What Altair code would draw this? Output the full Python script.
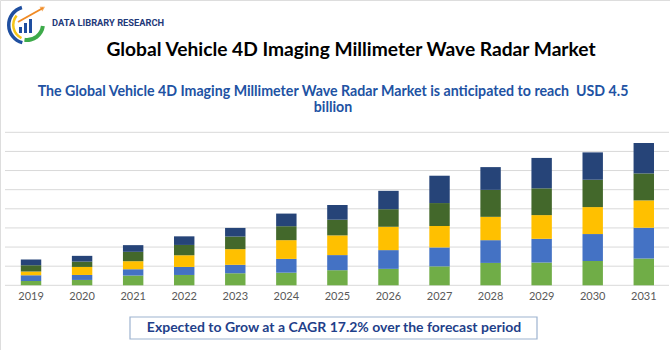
import altair as alt
import pandas as pd

years = ["2019", "2020", "2021", "2022", "2023", "2024", "2025",
         "2026", "2027", "2028", "2029", "2030", "2031"]
segments = ["Seg A", "Seg B", "Seg C", "Seg D", "Seg E"]
seg_a = [0.23, 0.28, 0.51, 0.54, 0.63, 0.66, 0.79, 0.86, 0.99, 1.17, 1.19, 1.27, 1.40]
seg_b = [0.30, 0.26, 0.33, 0.42, 0.44, 0.72, 0.79, 0.98, 0.99, 1.19, 1.24, 1.41, 1.61]
seg_c = [0.19, 0.42, 0.42, 0.61, 0.82, 0.98, 1.03, 1.22, 1.12, 1.22, 1.24, 1.41, 1.43]
seg_d = [0.33, 0.28, 0.49, 0.54, 0.66, 0.73, 0.82, 0.92, 1.20, 1.41, 1.40, 1.43, 1.41]
seg_e = [0.30, 0.30, 0.35, 0.45, 0.45, 0.66, 0.77, 0.96, 1.43, 1.19, 1.59, 1.43, 1.59]
grid_values = [0, 1, 2, 3, 4, 5, 6, 7, 8]
seg_colors = ["#70AD47", "#4472C4", "#FFC000", "#43682B", "#264478"]

title_text = "Global Vehicle 4D Imaging Millimeter Wave Radar Market"
subtitle_lines = ["The Global Vehicle 4D Imaging Millimeter Wave Radar Market is anticipated to reach\u00a0 USD 4.5",
                  "billion"]
cagr_text = "Expected to Grow at a CAGR 17.2% over the forecast period"
brand_text = "DATA LIBRARY RESEARCH"

rows = []
for s_idx, (name, vals) in enumerate(zip(segments, [seg_a, seg_b, seg_c, seg_d, seg_e])):
    for y, v in zip(years, vals):
        rows.append({"year": y, "segment": name, "order": s_idx, "value": v})
df = pd.DataFrame(rows)
grid_df = pd.DataFrame({"g": grid_values})
year_df = pd.DataFrame({"year": years})

FONT = "Lato"
xscale = alt.Scale(domain=years, range=[5.5, 669.3], paddingInner=0.6, paddingOuter=0.3)
yscale = alt.Scale(domain=[0, 8], range=[285.3, 132.3], nice=False, zero=True)

grid = alt.Chart(grid_df).mark_rule(color="#D9D9D9", strokeWidth=1).encode(
    y=alt.Y("g:Q", scale=yscale, axis=None),
    x=alt.value(5), x2=alt.value(669),
)

bars = alt.Chart(df).mark_bar().encode(
    x=alt.X("year:N", scale=xscale, axis=None),
    y=alt.Y("sum(value):Q", scale=yscale, axis=None, stack="zero"),
    color=alt.Color("segment:N", scale=alt.Scale(domain=segments, range=seg_colors), legend=None),
    order=alt.Order("order:Q", sort="ascending"),
)

year_labels = alt.Chart(year_df).mark_text(font=FONT, fontSize=11, color="#595959", baseline="middle").encode(
    x=alt.X("year:N", scale=xscale, axis=None),
    y=alt.value(297),
    text="year:N",
)

title = alt.Chart(pd.DataFrame({"t": [title_text]})).mark_text(
    font=FONT, fontSize=19.2, fontWeight="bold", color="#000000", align="center", baseline="alphabetic"
).encode(x=alt.value(351), y=alt.value(56), text="t:N")

sub1 = alt.Chart(pd.DataFrame({"t": [subtitle_lines[0]]})).mark_text(
    font=FONT, fontSize=14.2, fontWeight="bold", color="#2152A3", align="center", baseline="alphabetic"
).encode(x=alt.value(333), y=alt.value(96), text="t:N")

sub2 = alt.Chart(pd.DataFrame({"t": [subtitle_lines[1]]})).mark_text(
    font=FONT, fontSize=14.2, fontWeight="bold", color="#2152A3", align="center", baseline="alphabetic"
).encode(x=alt.value(333), y=alt.value(112), text="t:N")

box = alt.Chart(pd.DataFrame({"a": [0]})).mark_rect(
    fill="#FFFFFF", stroke="#9DB3D0", strokeWidth=1.2
).encode(x=alt.value(130), x2=alt.value(537), y=alt.value(317), y2=alt.value(339))

cagr = alt.Chart(pd.DataFrame({"t": [cagr_text]})).mark_text(
    font=FONT, fontSize=14, fontWeight="bold", color="#1F3F8A", align="center", baseline="alphabetic"
).encode(x=alt.value(334), y=alt.value(332), text="t:N")

brand = alt.Chart(pd.DataFrame({"t": [brand_text]})).mark_text(
    font="Roboto", fontSize=9.3, fontWeight="bold", color="#1F3A7A", align="left", baseline="middle"
).encode(x=alt.value(52), y=alt.value(23), text="t:N")

one = pd.DataFrame({"a": [0]})
logo_blue = alt.Chart(one).mark_arc(radius=20, radius2=16.5, theta=3.4, theta2=6.0, color="#1F4FA0").encode(
    x=alt.value(27), y=alt.value(25))
logo_yellow = alt.Chart(one).mark_arc(radius=16, radius2=13.5, theta=3.6, theta2=5.4, color="#F5C518").encode(
    x=alt.value(28), y=alt.value(25))
logo_green = alt.Chart(one).mark_arc(radius=18, radius2=14, theta=1.7, theta2=3.3, color="#3DAA4A").encode(
    x=alt.value(27), y=alt.value(24))
logo_bar1 = alt.Chart(one).mark_rect(color="#1F4FA0").encode(
    x=alt.value(19), x2=alt.value(22), y=alt.value(27), y2=alt.value(33))
logo_bar2 = alt.Chart(one).mark_rect(color="#1F4FA0").encode(
    x=alt.value(24), x2=alt.value(27), y=alt.value(23), y2=alt.value(33))
logo_bar3 = alt.Chart(one).mark_rect(color="#1F4FA0").encode(
    x=alt.value(29), x2=alt.value(32), y=alt.value(19), y2=alt.value(33))
logo_arrow = alt.Chart(one).mark_rule(color="#F08A24", strokeWidth=2).encode(
    x=alt.value(18), x2=alt.value(43), y=alt.value(22), y2=alt.value(8))
logo_tip = alt.Chart(one).mark_point(shape="triangle-up", size=30, filled=True, color="#F08A24", angle=60).encode(
    x=alt.value(43), y=alt.value(8))

chart = alt.layer(
    grid, bars, year_labels, title, sub1, sub2, box, cagr, brand,
    logo_blue, logo_yellow, logo_green, logo_bar1, logo_bar2, logo_bar3, logo_arrow, logo_tip
).properties(
    width=670, height=350, autosize=alt.AutoSizeParams(type="none"), padding=0
).configure_view(stroke=None).configure(background="#FFFFFF")

chart.save("out.html", embed_options={"renderer": "svg", "actions": False})
